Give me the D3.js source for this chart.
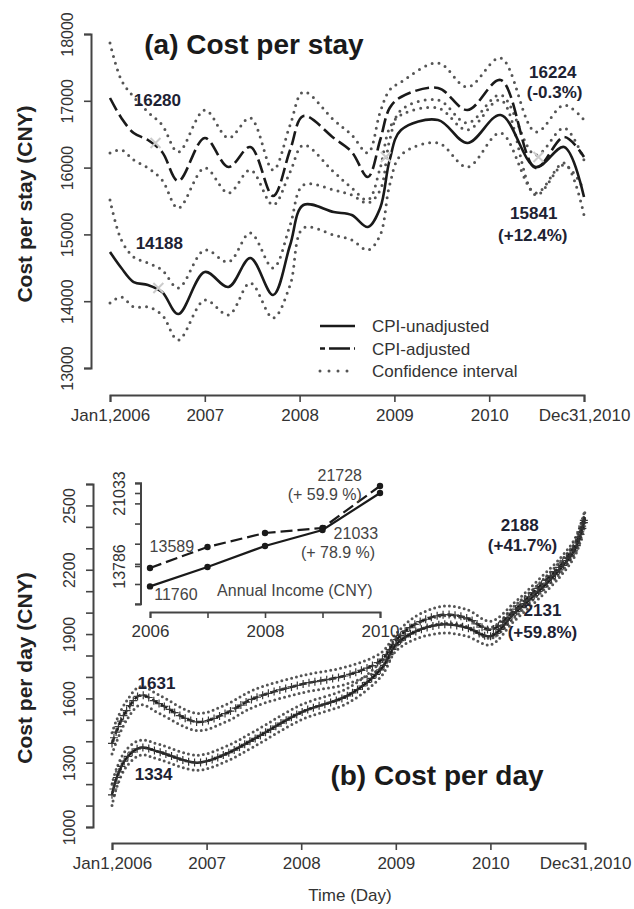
<!DOCTYPE html>
<html>
<head>
<meta charset="utf-8">
<script src="https://cdn.jsdelivr.net/npm/d3@7"></script>
<style>
  body { margin: 0; background: #fff; }
  svg { font-family: "Liberation Sans", Arial, sans-serif; }
</style>
</head>
<body>
<svg id="chart" width="634" height="909"></svg>
<script>
// ---- panel (a): cost per stay ----
const stayYears = [2006.00, 2006.12, 2006.25, 2006.40, 2006.55, 2006.72, 2007.00, 2007.25, 2007.48, 2007.72, 2007.90, 2008.04,
                   2008.36, 2008.55, 2008.72, 2008.85, 2008.95, 2009.07, 2009.46, 2009.77, 2010.12, 2010.49, 2010.79, 2011.00];
const stayAdjusted   = [17042, 16743, 16518, 16413, 16234, 15799, 16443, 16009, 16308, 15575, 16263, 16772,
                        16443, 16234, 15859, 16413, 16892, 17057, 17192, 16862, 17311, 15994, 16458, 16159];
const stayAdjHi      = [17865, 17311, 17057, 16832, 16638, 16234, 16862, 16443, 16743, 15964, 16638, 17132,
                        16713, 16488, 16219, 16832, 17162, 17281, 17566, 17207, 17641, 16533, 16937, 16713];
const stayAdjLo      = [16219, 16263, 16114, 15994, 15814, 15395, 15994, 15620, 15964, 15440, 15934, 16338,
                        15934, 15695, 15515, 15994, 16593, 16788, 16892, 16563, 17012, 15590, 16039, 15665];
const stayUnadjusted = [14737, 14497, 14287, 14243, 14138, 13808, 14437, 14213, 14647, 14093, 14841, 15440,
                        15335, 15290, 15111, 15395, 16114, 16563, 16713, 16368, 16787, 16009, 16308, 15560];
const stayUnadjHi    = [15515, 14916, 14662, 14572, 14467, 14198, 14766, 14587, 15021, 14497, 15141, 15740,
                        15665, 15590, 15470, 15665, 16413, 16862, 17012, 16668, 17087, 16189, 16593, 16114];
const stayUnadjLo    = [13973, 14063, 13913, 13913, 13794, 13419, 14018, 13794, 14273, 13749, 14243, 15096,
                        14991, 14916, 14766, 14991, 15740, 16189, 16368, 16009, 16518, 15620, 16069, 15290];
const stayTicks = [13000, 14000, 15000, 16000, 17000, 18000];
const stayNotes = [
  [2006.50, 16922, "16280"], [2006.52, 14781, "14188"],
  [2010.67, 17341, "16224"], [2010.69, 17042, "(-0.3%)"],
  [2010.47, 15231, "15841"], [2010.46, 14901, "(+12.4%)"]
];
const stayCrosses = [[2006.48, 16368], [2006.51, 14198], [2008.91, 16159], [2010.52, 16159]];

// ---- panel (b): cost per day ----
const dayYears = [2006.0, 2006.05, 2006.15, 2006.3, 2006.5, 2006.9, 2007.2, 2007.5, 2008.0, 2008.5, 2008.85,
                  2009.0, 2009.2, 2009.5, 2009.75, 2010.0, 2010.25, 2010.5, 2010.75, 2010.9, 2011.0];
const dayAdjusted   = [1390, 1450, 1540, 1615, 1575, 1490, 1530, 1600, 1665, 1710, 1780, 1870, 1945, 1990, 1975, 1920, 2010, 2115, 2225, 2320, 2450];
const dayAdjHi      = [1440, 1500, 1585, 1655, 1615, 1530, 1570, 1640, 1705, 1750, 1815, 1900, 1980, 2030, 2015, 1960, 2045, 2150, 2260, 2350, 2480];
const dayAdjLo      = [1340, 1400, 1495, 1570, 1530, 1450, 1490, 1560, 1625, 1670, 1745, 1840, 1910, 1950, 1935, 1880, 1975, 2080, 2190, 2290, 2420];
const dayUnadjusted = [1150, 1230, 1320, 1370, 1350, 1300, 1340, 1410, 1535, 1615, 1740, 1850, 1910, 1945, 1930, 1890, 1995, 2095, 2210, 2300, 2440];
const dayUnadjHi    = [1200, 1275, 1360, 1405, 1385, 1335, 1375, 1445, 1570, 1650, 1775, 1880, 1945, 1985, 1970, 1930, 2030, 2130, 2245, 2330, 2470];
const dayUnadjLo    = [1100, 1185, 1280, 1335, 1315, 1265, 1305, 1375, 1500, 1580, 1705, 1820, 1875, 1905, 1890, 1850, 1960, 2060, 2175, 2270, 2410];
const dayTicks = d3.range(1000, 2601, 100);
const dayTickLabels = [1000, 1300, 1600, 1900, 2200, 2500];
const dayNotes = [
  [2006.47, 1644, "1631"], [2006.44, 1219, "1334"],
  [2010.31, 2381, "2188"], [2010.34, 2288, "(+41.7%)"],
  [2010.55, 1984, "2131"], [2010.55, 1882, "(+59.8%)"]
];

// ---- inset: annual income ----
const incomeYears = [2006, 2007, 2008, 2009, 2010];
const incomeAdjusted   = [13589, 15673, 17063, 17560, 21728];
const incomeUnadjusted = [11760, 13687, 15772, 17361, 21033];
const incomeTicks = [10000, 12000, 14000, 16000, 18000, 20000, 22000];
const incomeTickLabels = [13786, 21033];
const incomeNotes = [
  [2006.38, 15176, "13589"], [2006.45, 10410, "11760"],
  [2009.30, 22250, "21728"], [2009.04, 20300, "(+ 59.9 %)"],
  [2009.58, 16450, "21033"], [2009.27, 14600, "(+ 78.9 %)"],
  [2008.52, 10807, "Annual Income (CNY)"]
];

const xTickValues = [2006, 2007, 2008, 2009, 2010, 2011];
const xTickNames = ["Jan1,2006", "2007", "2008", "2009", "2010", "Dec31,2010"];

const svg = d3.select("#chart");
const ink = "#1a1a1a", axisInk = "#444", dotInk = "#555";

const xA = d3.scaleLinear().domain([2006, 2011]).range([110, 584]);
const yA = d3.scaleLinear().domain([13000, 18000]).range([368, 34]);
const xB = d3.scaleLinear().domain([2006, 2011]).range([112, 585]);
const yB = d3.scaleLinear().domain([1000, 2600]).range([827, 484]);
const xI = d3.scaleLinear().domain([2006, 2010]).range([150, 380]);
const yI = d3.scaleLinear().domain([13786, 21033]).range([566, 493]);

function styleAxis(g) {
  g.select(".domain").attr("stroke", axisInk).attr("stroke-width", 2);
  g.selectAll(".tick line").attr("stroke", axisInk).attr("stroke-width", 1.6);
  g.selectAll(".tick text").attr("fill", "#333");
}

function xAxisAt(x, y0, size) {
  const g = svg.append("g").attr("transform", `translate(0,${y0})`)
    .call(d3.axisBottom(x).tickValues(xTickValues).tickSizeOuter(0).tickSize(7)
      .tickFormat((d, i) => xTickNames[i]))
    .style("font-size", size + "px");
  styleAxis(g);
  g.selectAll(".tick text").attr("y", 14);
  return g;
}

function yAxisAt(y, x0, ticks, labels, size, off) {
  const g = svg.append("g").attr("transform", `translate(${x0},0)`)
    .call(d3.axisLeft(y).tickValues(ticks).tickSizeOuter(0).tickSize(7)
      .tickFormat(d => labels.includes(d) ? d : ""))
    .style("font-size", size + "px");
  styleAxis(g);
  g.selectAll(".tick text")
    .attr("x", 0).attr("dy", 0).attr("text-anchor", "middle")
    .attr("transform", `translate(${off},0) rotate(-90)`);
  return g;
}

function drawSeries(x, y, years, vals, opts) {
  const line = d3.line().x((d, i) => x(years[i])).y(d => y(d)).curve(d3.curveCatmullRom.alpha(0.5));
  return svg.append("path").datum(vals)
    .attr("d", line)
    .attr("fill", "none")
    .attr("stroke", opts.color || ink)
    .attr("stroke-width", opts.width || 2.2)
    .attr("stroke-dasharray", opts.dash || null)
    .attr("stroke-linecap", opts.cap || "butt");
}

function dotted(x, y, years, vals, gap) {
  return drawSeries(x, y, years, vals, { color: dotInk, width: 3, dash: `0,${gap}`, cap: "round" });
}

// small "+" marks strung along a drawn path (the daily points in panel b)
function plusMarks(path, step, size, color) {
  const node = path.node(), len = node.getTotalLength();
  const pts = d3.range(0, len, step).map(l => node.getPointAtLength(l));
  svg.append("path")
    .attr("d", pts.map(p => `M${p.x - size},${p.y}H${p.x + size}M${p.x},${p.y - size}V${p.y + size}`).join(""))
    .attr("stroke", color).attr("stroke-width", 1.2).attr("fill", "none");
}

function notes(x, y, list, opts) {
  svg.append("g").selectAll("text").data(list).join("text")
    .attr("x", d => x(d[0])).attr("y", d => y(d[1]))
    .attr("text-anchor", "middle")
    .style("font-size", opts.size + "px")
    .style("font-weight", opts.weight || "normal")
    .attr("fill", opts.color || ink)
    .text(d => d[2]);
}

// ===== panel (a) =====
xAxisAt(xA, 395, 17);
yAxisAt(yA, 91, stayTicks, stayTicks, 16, -18);

[stayAdjHi, stayAdjLo, stayUnadjHi, stayUnadjLo].forEach(s => dotted(xA, yA, stayYears, s, 7));
drawSeries(xA, yA, stayYears, stayAdjusted, { dash: "14,5", width: 2.6 });
drawSeries(xA, yA, stayYears, stayUnadjusted, { width: 2.6 });

svg.append("g").selectAll("path").data(stayCrosses).join("path")
  .attr("d", d => { const cx = xA(d[0]), cy = yA(d[1]); return `M${cx-5},${cy-5}L${cx+5},${cy+5}M${cx-5},${cy+5}L${cx+5},${cy-5}`; })
  .attr("stroke", "#ccc").attr("stroke-width", 2);

notes(xA, yA, stayNotes, { size: 17, weight: "bold", color: "#1d2233" });

svg.append("text").attr("x", 254).attr("y", 54).attr("text-anchor", "middle")
  .style("font-size", "28px").style("font-weight", "bold").attr("fill", ink)
  .text("(a) Cost per stay");

svg.append("text").attr("transform", "translate(32,204) rotate(-90)").attr("text-anchor", "middle")
  .style("font-size", "21px").style("font-weight", "bold").attr("fill", "#222")
  .text("Cost per stay (CNY)");

// legend
const legendRows = [
  { label: "CPI-unadjusted", dash: null, color: ink, cap: "butt" },
  { label: "CPI-adjusted", dash: "5,4,16,0", color: ink, cap: "butt" },
  { label: "Confidence interval", dash: "0,9", color: dotInk, cap: "round" }
];
const legend = svg.append("g");
legendRows.forEach((r, i) => {
  const ly = 326 + i * 22.5;
  legend.append("line").attr("x1", 320).attr("x2", 355).attr("y1", ly).attr("y2", ly)
    .attr("stroke", r.color).attr("stroke-width", r.cap === "round" ? 3 : 2.6)
    .attr("stroke-dasharray", r.dash).attr("stroke-linecap", r.cap);
  legend.append("text").attr("x", 372).attr("y", ly + 6)
    .style("font-size", "17px").attr("fill", "#333").text(r.label);
});

// ===== panel (b) =====
xAxisAt(xB, 843, 17);
yAxisAt(yB, 93, dayTicks, dayTickLabels, 16, -18);

[dayAdjHi, dayAdjLo, dayUnadjHi, dayUnadjLo].forEach(s => dotted(xB, yB, dayYears, s, 5));
const adjDay = drawSeries(xB, yB, dayYears, dayAdjusted, { dash: "7,3", width: 2.4 });
const unadjDay = drawSeries(xB, yB, dayYears, dayUnadjusted, { width: 2.4 });
plusMarks(adjDay, 6, 4, "#3a3a3a");
plusMarks(unadjDay, 6, 4, "#333");

notes(xB, yB, dayNotes, { size: 17, weight: "bold", color: "#1d2233" });

svg.append("text").attr("x", 437).attr("y", 785).attr("text-anchor", "middle")
  .style("font-size", "28px").style("font-weight", "bold").attr("fill", ink)
  .text("(b) Cost per day");

svg.append("text").attr("transform", "translate(32,668) rotate(-90)").attr("text-anchor", "middle")
  .style("font-size", "21px").style("font-weight", "bold").attr("fill", "#222")
  .text("Cost per day (CNY)");

svg.append("text").attr("x", 350).attr("y", 901).attr("text-anchor", "middle")
  .style("font-size", "17px").attr("fill", "#333").text("Time (Day)");

// ===== inset =====
const gIx = svg.append("g").attr("transform", "translate(0,612)")
  .call(d3.axisBottom(xI).tickValues(incomeYears).tickSizeOuter(0).tickSize(6)
    .tickFormat(d => d % 2 === 0 ? d : ""))
  .style("font-size", "17px");
styleAxis(gIx);
gIx.selectAll(".tick text").attr("y", 13);

const gIy = svg.append("g").attr("transform", "translate(141,0)")
  .call(d3.axisLeft(yI).tickValues(incomeTicks.concat(incomeTickLabels)).tickSizeOuter(0).tickSize(6)
    .tickFormat(d => incomeTickLabels.includes(d) ? d : ""))
  .style("font-size", "16px");
gIy.select(".domain").attr("d", `M-6,${yI(22000)}H0V${yI(10000)}H-6`);
styleAxis(gIy);
gIy.selectAll(".tick text")
  .attr("x", 0).attr("dy", 0).attr("text-anchor", "middle")
  .attr("transform", "translate(-16,0) rotate(-90)");

const incLine = vals => d3.line().x((d, i) => xI(incomeYears[i])).y(d => yI(d))(vals);
svg.append("path").attr("d", incLine(incomeAdjusted)).attr("fill", "none")
  .attr("stroke", ink).attr("stroke-width", 2.2).attr("stroke-dasharray", "12,5");
svg.append("path").attr("d", incLine(incomeUnadjusted)).attr("fill", "none")
  .attr("stroke", ink).attr("stroke-width", 2.2);
[incomeAdjusted, incomeUnadjusted].forEach(s => {
  svg.append("g").selectAll("circle").data(s).join("circle")
    .attr("cx", (d, i) => xI(incomeYears[i])).attr("cy", d => yI(d)).attr("r", 3.2).attr("fill", ink);
});

notes(xI, yI, incomeNotes, { size: 16, color: "#444" });
</script>
</body>
</html>
